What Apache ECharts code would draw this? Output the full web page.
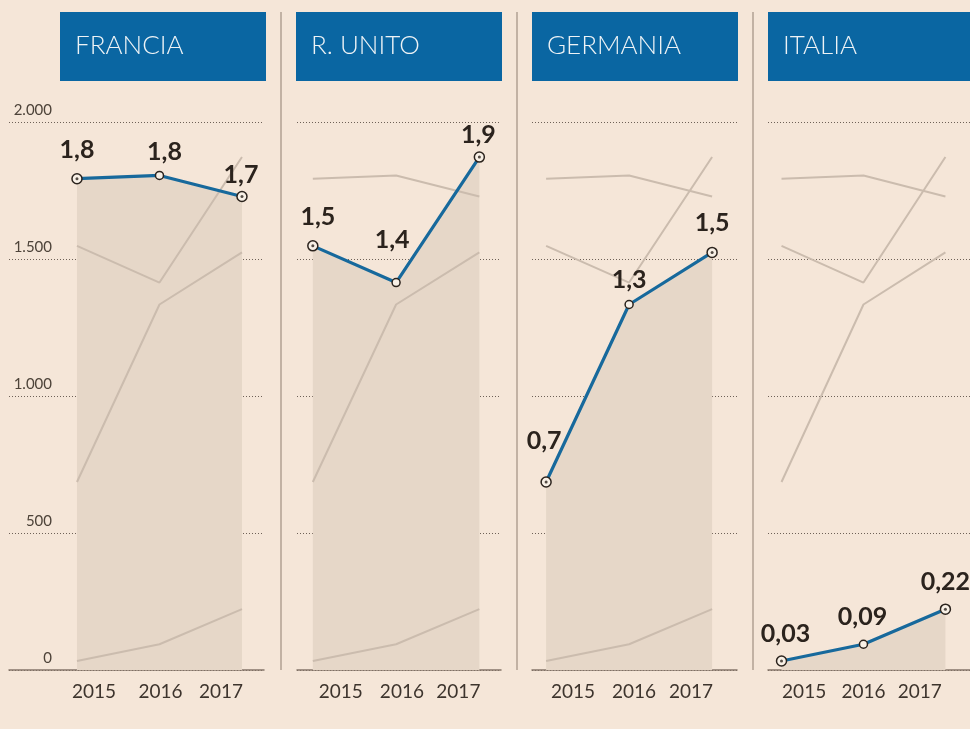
<!DOCTYPE html>
<html>
<head>
<meta charset="utf-8">
<script src="https://cdn.jsdelivr.net/npm/echarts@6/dist/echarts.min.js"></script>
<style>
html,body{margin:0;padding:0;background:#f5e6d8;}
#chart{width:970px;height:729px;}
</style>
</head>
<body>
<div id="chart"></div>
<script>
// ---- data ----
const countries = ['FRANCIA', 'R. UNITO', 'GERMANIA', 'ITALIA'];
const years = [2015, 2016, 2017];
const francia  = [1793, 1805, 1728];
const regnoUnito = [1548, 1414, 1872];
const germania = [686, 1334, 1524];
const italia   = [33, 94, 222];
const labelDecimals = [1, 1, 1, 2];
const yTicks = [0, 500, 1000, 1500, 2000];

// ---- layout / style (kept apart from data) ----
const seriesList = [francia, regnoUnito, germania, italia];
const boxLeft = [60, 296, 532, 768];
const gridLeft = [9, 297, 532, 768];
const gridWidth = [255, 204, 205, 205];
const xMin = [2014.176, 2014.81, 2014.83, 2014.835];
const xMax = [2017.267, 2017.26, 2017.3, 2017.3];
const yearLabelPos = [
  [2015.206, 2016.012, 2016.745],
  [2015.336, 2016.07, 2016.748],
  [2015.325, 2016.06, 2016.747],
  [2015.276, 2016.0, 2016.688]
];
const labelNudge = [
  [[0,-3],[5,2],[-1,5]],
  [[5,-3],[-4,-17],[-1,4]],
  [[-2,-15],[0,1],[0,-3]],
  [[4,-1],[-1,-2],[0,-1]]
];
const separators = [281, 517, 753];

const BLUE = '#17699c';
const HEADER = '#0a66a2';
const GREY = '#cbbcae';
const AREA = '#e6d7c8';
const DARK = '#2b231d';
const FONT = 'Lato, "Open Sans", sans-serif';

function fmtThousands(v) {
  return String(v).replace(/\B(?=(\d{3})+(?!\d))/g, '.');
}

const grids = [], xAxes = [], yAxes = [], series = [], graphics = [];

countries.forEach((name, i) => {
  grids.push({ left: gridLeft[i], width: gridWidth[i], top: 122, height: 548, containLabel: false });
  xAxes.push({
    type: 'value', gridIndex: i, min: xMin[i], max: xMax[i],
    axisLine: { show: true, lineStyle: { color: '#85766a', width: 1.5 } },
    axisTick: { show: false },
    splitLine: { show: false },
    axisLabel: {
      customValues: yearLabelPos[i],
      formatter: v => String(Math.round(v)),
      color: '#3d342d', fontFamily: FONT, fontSize: 19, margin: 12
    }
  });
  yAxes.push({
    type: 'value', gridIndex: i, min: 0, max: 2000, interval: 500,
    axisLine: { show: false }, axisTick: { show: false },
    splitLine: { show: true, lineStyle: { color: '#6e6157', width: 1, type: [1, 2] } },
    axisLabel: i === 0 ? {
      show: true, inside: true, margin: 43, align: 'right', verticalAlign: 'bottom',
      padding: [0, 0, 4, 0],
      formatter: v => fmtThousands(v),
      color: '#4d4339', fontFamily: FONT, fontSize: 15
    } : { show: false }
  });

  const own = seriesList[i];
  const pts = own.map((v, k) => [years[k], v]);

  // shaded area under highlighted line
  series.push({
    type: 'line', xAxisIndex: i, yAxisIndex: i, data: pts,
    symbol: 'none', lineStyle: { width: 0 }, areaStyle: { color: AREA, opacity: 1 },
    silent: true, z: 1
  });
  // other countries in grey
  seriesList.forEach((other, j) => {
    if (j === i) return;
    series.push({
      type: 'line', xAxisIndex: i, yAxisIndex: i,
      data: other.map((v, k) => [years[k], v]),
      symbol: 'none', lineStyle: { color: GREY, width: 2 }, silent: true, z: 2
    });
  });
  // highlighted line
  series.push({
    type: 'line', xAxisIndex: i, yAxisIndex: i,
    data: pts.map((p, k) => ({
      value: p,
      symbolSize: k === 1 ? 8 : 10,
      label: { offset: labelNudge[i][k] }
    })),
    symbol: 'circle',
    itemStyle: { color: '#f8f0e6', borderColor: DARK, borderWidth: 1.5 },
    lineStyle: { color: BLUE, width: 3.2 },
    label: {
      show: true, position: 'top', distance: 8,
      formatter: p => (p.value[1] / 1000).toFixed(labelDecimals[i]).replace('.', ','),
      color: DARK, fontFamily: FONT, fontWeight: 'bold', fontSize: 25
    },
    z: 3
  });
  // centre dots on the end points
  series.push({
    type: 'scatter', xAxisIndex: i, yAxisIndex: i,
    data: [pts[0], pts[pts.length - 1]],
    symbol: 'circle', symbolSize: 3, itemStyle: { color: DARK }, silent: true, z: 4
  });

  // header box
  graphics.push({
    type: 'group', left: boxLeft[i], top: 12, children: [
      { type: 'rect', shape: { x: 0, y: 0, width: 206, height: 69 }, style: { fill: HEADER } },
      { type: 'text', x: 15, y: 34, style: { text: name, fill: '#eef3f6', font: '300 26px ' + FONT, verticalAlign: 'middle', align: 'left' } }
    ]
  });
});

separators.forEach(x => {
  graphics.push({ type: 'line', shape: { x1: x, y1: 12, x2: x, y2: 670 }, style: { stroke: '#c2b2a4', lineWidth: 2 }, z: 0 });
});

const chart = echarts.init(document.getElementById('chart'), null, { renderer: 'canvas' });
chart.setOption({
  backgroundColor: '#f5e6d8',
  animation: false,
  grid: grids, xAxis: xAxes, yAxis: yAxes, series: series, graphic: graphics
});
</script>
</body>
</html>
